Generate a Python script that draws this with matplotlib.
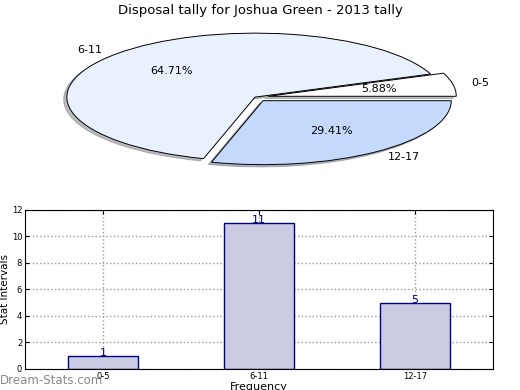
import matplotlib
matplotlib.use("Agg")
import matplotlib.pyplot as plt

# data
intervals = ["0-5", "6-11", "12-17"]
counts = [1, 11, 5]
pie_colors = ["#ffffff", "#eaf1fe", "#c5d9fd"]
explode = [0.07, 0, 0.07]

fig = plt.figure(figsize=(5.2, 3.9), dpi=100)

# pie on top, squashed into an ellipse like the old chart
ax1 = fig.add_axes([0.038, 0.546, 0.905, 0.41])
wedges, texts, autotexts = ax1.pie(
    counts, labels=intervals, colors=pie_colors, explode=explode,
    autopct="%1.2f%%", shadow={"ox": -0.012, "oy": -0.025, "shade": 0.5},
    startangle=0,
    wedgeprops={"edgecolor": "black", "linewidth": 0.7},
    textprops={"fontsize": 8})
ax1.set_aspect("auto")
ax1.set_xlim(-1.25, 1.25)
ax1.set_ylim(-1.25, 1.25)
fig.text(0.5, 0.973, "Disposal tally for Joshua Green - 2013 tally",
         ha="center", va="center", fontsize=9.5)

# bar chart below
ax2 = fig.add_axes([0.048, 0.054, 0.9, 0.408])
x = range(len(intervals))
ax2.bar(x, counts, width=0.45, color="#cbcbe3", edgecolor="#000080", linewidth=1, zorder=2)
for i, v in zip(x, counts):
    ax2.text(i, v, str(v), ha="center", va="baseline", color="#000080", fontsize=8, zorder=3)
ax2.set_xlim(-0.5, 2.5)
ax2.set_ylim(0, 12)
ax2.set_yticks([0, 2, 4, 6, 8, 10, 12])
ax2.set_xticks(list(x))
ax2.set_xticklabels(intervals)
ax2.tick_params(labelsize=6, direction="in", length=3, pad=2, top=True, right=True)
ax2.grid(True, linestyle=":", color="#999999", linewidth=1, zorder=0)
ax2.set_ylabel("Stat Intervals", fontsize=7.5, labelpad=1)
ax2.set_xlabel("Frequency", fontsize=8, labelpad=1)

fig.text(0.0, 0.024, "Dream-Stats.com", color="#888888", fontsize=8.5, ha="left", va="center")

fig.savefig("out.png", dpi=100)
